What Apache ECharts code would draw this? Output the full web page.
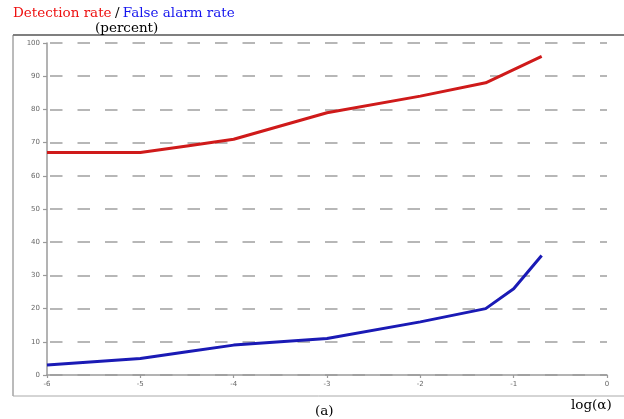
<!DOCTYPE html>
<html><head><meta charset="utf-8">
<script src="https://cdn.jsdelivr.net/npm/echarts@6/dist/echarts.min.js"></script>
<style>html,body{margin:0;padding:0;background:#fff}#c{width:624px;height:419px}</style>
</head><body><div id="c"></div>
<script>
var logAlpha = [-6, -5, -4.5, -4, -3, -2, -1.3, -1, -0.7];
var detectionRate = [67, 67, 69, 71, 79, 84, 88, 92, 96];
var falseAlarmRate = [3, 5, 7, 9, 11, 16, 20, 26, 36];
var xTicks = {min: -6, max: 0, interval: 1};
var yTicks = {min: 0, max: 100, interval: 10};

function pairs(xs, ys){ return xs.map(function(x,i){return [x, ys[i]];}); }

var chart = echarts.init(document.getElementById('c'), null, {renderer:'canvas'});
var serif = '"DejaVu Serif", "Liberation Serif", serif';
chart.setOption({
  animation: false,
  backgroundColor: '#fff',
  grid: {left: 47, right: 17, top: 43, bottom: 44, containLabel: false},
  xAxis: {
    type: 'value', min: xTicks.min, max: xTicks.max, interval: xTicks.interval,
    axisLine: {show: true, onZero: false, lineStyle: {color: '#9a9a9a', width: 1.5}},
    axisTick: {show: true, inside: false, length: 3, lineStyle: {color: '#9a9a9a', width: 1.2}},
    axisLabel: {color: '#666', fontSize: 7, fontFamily: 'DejaVu Sans', margin: 6},
    splitLine: {show: false}
  },
  yAxis: {
    type: 'value', min: yTicks.min, max: yTicks.max, interval: yTicks.interval,
    axisLine: {show: true, onZero: false, lineStyle: {color: '#9a9a9a', width: 1.5}},
    axisTick: {show: true, length: 4, lineStyle: {color: '#9a9a9a', width: 1.2}},
    axisLabel: {color: '#666', fontSize: 7, fontFamily: 'DejaVu Sans', margin: 7},
    splitLine: {show: true, lineStyle: {color: '#a0a0a0', width: 1.5, type: [12.5, 15], dashOffset: -3}}
  },
  series: [
    {type: 'line', data: pairs(logAlpha, detectionRate), symbol: 'none', smooth: false,
     lineStyle: {color: '#cf1a1a', width: 3}, z: 3},
    {type: 'line', data: pairs(logAlpha, falseAlarmRate), symbol: 'none', smooth: false,
     lineStyle: {color: '#1a1ab5', width: 3}, z: 3}
  ],
  graphic: [
    {type: 'line', shape: {x1: 13, y1: 35, x2: 624, y2: 35}, style: {stroke: '#555', lineWidth: 1.5}, silent: true},
    {type: 'line', shape: {x1: 13, y1: 35, x2: 13, y2: 396}, style: {stroke: '#777', lineWidth: 1}, silent: true},
    {type: 'line', shape: {x1: 13, y1: 396, x2: 624, y2: 396}, style: {stroke: '#aaa', lineWidth: 1}, silent: true},
    {type: 'text', left: 13, top: 6, style: {
      text: '{r|Detection rate} {k|/} {b|False alarm rate}',
      rich: {
        r: {fill: '#ee1111', fontSize: 13.5, fontFamily: serif},
        k: {fill: '#000', fontSize: 13.5, fontFamily: serif},
        b: {fill: '#1515ee', fontSize: 13.5, fontFamily: serif}
      }}},
    {type: 'text', left: 95, top: 21, style: {text: '(percent)', fill: '#000', fontSize: 13.5, fontFamily: serif}},
    {type: 'text', left: 571, top: 398, style: {text: 'log(\u03b1)', fill: '#000', fontSize: 13.5, fontFamily: serif}},
    {type: 'text', left: 315, top: 404, style: {text: '(a)', fill: '#000', fontSize: 13.5, fontFamily: serif}}
  ]
});
</script></body></html>
